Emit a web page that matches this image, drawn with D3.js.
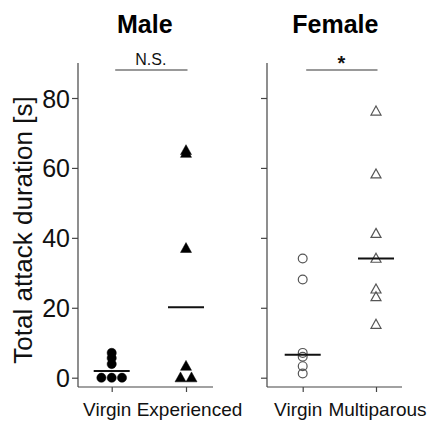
<!DOCTYPE html>
<html><head><meta charset="utf-8">
<script src="https://cdn.jsdelivr.net/npm/d3@7"></script>
<style>body{margin:0;background:#fff}svg{display:block}text{font-family:"Liberation Sans",Arial,sans-serif}</style>
</head><body>
<script>
const maleGroups = ["Virgin","Experienced"];
const femaleGroups = ["Virgin","Multiparous"];
const maleVirgin = [0,0,0,3.9,5.6,7.1];
const maleExperienced = [0,0,3.3,37,64.2,65];
const femaleVirgin = [1.2,3.3,6.0,7.1,28.1,34.1];
const femaleMultiparous = [15.2,23.1,25.3,34.1,41.2,58.2,76.2];
const yTicks = [0,20,40,60,80];
const panelTitles = ["Male","Female"];
const sigLabels = ["N.S.","*"];
const yLabel = "Total attack duration [s]";

const W=431,H=421;
const svg=d3.select("body").append("svg").attr("width",W).attr("height",H);
const y=d3.scaleLinear().domain([0,80]).range([377.7,98]);

const median=a=>d3.median(a);

const panels=[
 {title:panelTitles[0],groups:maleGroups,data:[maleVirgin,maleExperienced],shapes:["circle","triangle"],filled:true,x0:78,x1:213,r:[111.7,186],sig:sigLabels[0],labels:true,lab:[-5,3]},
 {title:panelTitles[1],groups:femaleGroups,data:[femaleVirgin,femaleMultiparous],shapes:["circle","triangle"],filled:false,x0:267,x1:402,r:[302.7,376],sig:sigLabels[1],labels:false,lab:[-5,1]}
];

const axisColor="#444";
panels.forEach(p=>{
  const g=svg.append("g");
  const x=d3.scalePoint().domain(p.groups).range(p.r);
  // y axis
  const ya=d3.axisLeft(y).tickValues(yTicks).tickSize(6).tickSizeOuter(0).tickFormat(p.labels?d3.format("d"):"");
  const yg=g.append("g").attr("transform",`translate(${p.x0},0)`).call(ya);
  yg.select(".domain").remove();
  g.append("line").attr("x1",p.x0).attr("x2",p.x0).attr("y1",63).attr("y2",387).attr("stroke",axisColor).attr("stroke-width",1.2);
  yg.selectAll(".tick line").attr("stroke",axisColor).attr("stroke-width",1.2);
  yg.selectAll(".tick text").attr("font-size",25).attr("fill","#111").attr("x",-8).attr("dy","0.36em");
  // x axis
  const xa=d3.axisBottom(x).tickSize(5).tickSizeOuter(0);
  const xg=g.append("g").attr("transform","translate(0,387)").call(xa);
  xg.select(".domain").remove();
  g.append("line").attr("x1",p.x0).attr("x2",p.x1).attr("y1",387).attr("y2",387).attr("stroke",axisColor).attr("stroke-width",1.2);
  xg.selectAll(".tick line").attr("stroke",axisColor).attr("stroke-width",1.2);
  xg.selectAll(".tick text").attr("font-size",19).attr("fill","#111").attr("y",29).attr("dy",0).attr("dx",(d,i)=>p.lab[i]);
  // title
  g.append("text").attr("x",(p.r[0]+p.r[1])/2-4).attr("y",33).attr("text-anchor","middle").attr("font-size",25).attr("font-weight","bold").attr("fill","#000").text(p.title);
  // sig
  g.append("line").attr("x1",p.r[0]+3.5).attr("x2",p.r[1]+1.5).attr("y1",70).attr("y2",70).attr("stroke","#777").attr("stroke-width",1.6);
  g.append("text").attr("x",(p.r[0]+p.r[1])/2+2).attr("y",p.sig==="*"?70:65).attr("text-anchor","middle").attr("font-size",p.sig==="*"?20:16).attr("font-weight",p.sig==="*"?"bold":"normal").attr("fill","#111").text(p.sig);
  // points
  p.data.forEach((vals,gi)=>{
    const cx=x(p.groups[gi]);
    const shape=p.shapes[gi];
    const counts=d3.rollup(vals,v=>v.length,d=>d);
    const seen=new Map();
    const spacing=shape==="circle"?10.3:11;
    vals.forEach(v=>{
      const n=counts.get(v); const i=seen.get(v)||0; seen.set(v,i+1);
      const px=cx+(i-(n-1)/2)*spacing;
      const py=y(v);
      const fill=p.filled?"#000":"none";
      const stroke=p.filled?"#000":"#555";
      if(shape==="circle"){
        g.append("circle").attr("cx",px).attr("cy",py).attr("r",p.filled?4.6:4.4).attr("fill",fill).attr("stroke",stroke).attr("stroke-width",p.filled?0.5:1.2);
      }else{
        const s=p.filled?5.5:5;
        g.append("path").attr("d",`M${px},${py-s*1.05}L${px+s},${py+s*0.75}L${px-s},${py+s*0.75}Z`).attr("fill",fill).attr("stroke",stroke).attr("stroke-width",p.filled?0.5:1.2);
      }
    });
    const m=median(vals);
    g.append("line").attr("x1",cx-18).attr("x2",cx+18).attr("y1",y(m)).attr("y2",y(m)).attr("stroke","#111").attr("stroke-width",2);
  });
});

svg.append("text").attr("transform","translate(32,230) rotate(-90)").attr("text-anchor","middle").attr("font-size",26).attr("fill","#111").text(yLabel);
</script>
</body></html>
